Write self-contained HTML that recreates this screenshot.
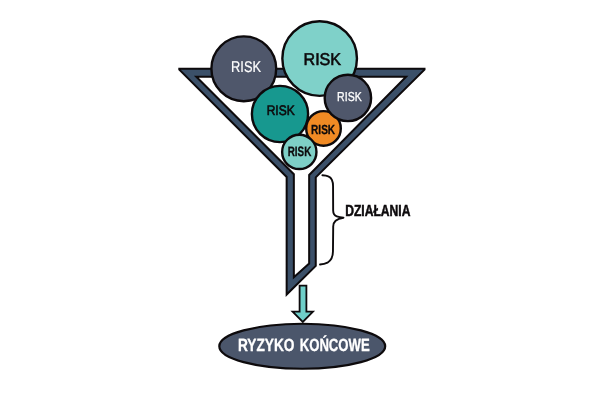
<!DOCTYPE html>
<html><head><meta charset="utf-8">
<style>
html,body{margin:0;padding:0;background:#fff;}
body{width:603px;height:402px;overflow:hidden;font-family:"Liberation Sans",sans-serif;}
svg{display:block;will-change:transform;filter:blur(0.35px);}
text{font-family:"Liberation Sans",sans-serif;}
</style></head><body>
<svg width="603" height="402" viewBox="0 0 603 402">
<!-- funnel -->
<path fill-rule="evenodd" fill="#3b5069" stroke="#0d0a0c" stroke-width="2" stroke-linejoin="miter" stroke-miterlimit="10"
 d="M179.3 68.85 L424.5 68.85 L424.5 69.64 L315.75 177.4 L315.75 265.85 L286.65 294.55 L286.65 177 L179.3 69.66 Z
    M196.3 76.7 L406.1 76.7 L309.15 174.95 L309.15 263.5 L293.85 277.2 L293.85 174.25 Z"/>
<!-- circles -->
<circle cx="243.8" cy="68.8" r="32.4" fill="#4f576b" stroke="#0d0a0c" stroke-width="2.4"/>
<circle cx="319.65" cy="58.55" r="37.3" fill="#7fd1c9" stroke="#0d0a0c" stroke-width="2.4"/>
<circle cx="280" cy="114" r="28.1" fill="#17988f" stroke="#0d0a0c" stroke-width="2.4"/>
<circle cx="323.5" cy="128.4" r="17.3" fill="#f08a24" stroke="#0d0a0c" stroke-width="2.4"/>
<circle cx="347.9" cy="97.9" r="23.2" fill="#4f576b" stroke="#0d0a0c" stroke-width="2.4"/>
<circle cx="299.3" cy="151.9" r="17.15" fill="#7ecfc6" stroke="#0d0a0c" stroke-width="2.4"/>

<!-- brace -->
<path fill="none" stroke="#0d0a0c" stroke-width="1.9" stroke-linecap="round" stroke-linejoin="round"
 d="M322.4 175.3 C325 175.4 327 175.8 328.3 176.4 C330.2 177.2 331.3 178.5 331.9 179.9 C332.7 181.7 333.05 183.5 333.05 186 L333.15 210.5 C333.15 213.8 334.3 215.4 336.8 216.3 C338.8 217 341 217.4 343.5 217.7 C340 218.2 337.3 219.3 335.6 220.8 C334 222.3 333.2 224 333.2 226.5 L332.95 251.5 C332.95 257 331 260.5 327.5 262.7 C325 264 322.5 264.4 320 264.5"/>
<!-- arrow -->
<path fill="#6fcfc9" stroke="#0d0a0c" stroke-width="1.8" stroke-linejoin="miter"
 d="M299.6 285.7 L306.4 285.7 L306.4 311.7 L312.95 311.7 L302.8 322 L292.6 311.7 L299.6 311.7 Z"/>
<!-- ellipse -->
<ellipse cx="302.25" cy="346.25" rx="82.95" ry="22.5" fill="#4b566b" stroke="#0d0a0c" stroke-width="2.2"/>
<g style="text-rendering:geometricPrecision">
<!-- risk labels -->
<text x="246.1" y="71.9" font-size="15.5" fill="#ffffff" stroke="#ffffff" stroke-width="0.2" text-anchor="middle" textLength="30" lengthAdjust="spacingAndGlyphs">RISK</text>
<text x="322.3" y="64.6" font-size="17.1" fill="#0d0a0c" stroke="#0d0a0c" stroke-width="0.6" text-anchor="middle" textLength="37.6" lengthAdjust="spacingAndGlyphs">RISK</text>
<text x="349.4" y="101" font-size="13" fill="#ffffff" stroke="#ffffff" stroke-width="0.3" text-anchor="middle" textLength="24.6" lengthAdjust="spacingAndGlyphs">RISK</text>
<text x="280.7" y="115.0" font-size="13.8" fill="#0d0a0c" stroke="#0d0a0c" stroke-width="0.6" text-anchor="middle" textLength="28" lengthAdjust="spacingAndGlyphs">RISK</text>
<text x="323.1" y="133.6" font-size="13.2" font-weight="bold" fill="#0d0a0c" stroke="#0d0a0c" stroke-width="0.3" text-anchor="middle" textLength="24" lengthAdjust="spacingAndGlyphs">RISK</text>
<text x="299.5" y="155.6" font-size="13.6" font-weight="bold" fill="#0d0a0c" stroke="#0d0a0c" stroke-width="0.3" text-anchor="middle" textLength="23.6" lengthAdjust="spacingAndGlyphs">RISK</text>
<text x="345.2" y="216.4" font-size="16" font-weight="bold" fill="#0d0a0c" stroke="#0d0a0c" stroke-width="0.55" textLength="65.2" lengthAdjust="spacingAndGlyphs">DZIAŁANIA</text>
<text x="237.9" y="351.2" font-size="17.7" font-weight="bold" fill="#ffffff" stroke="#ffffff" stroke-width="0.35" textLength="56.6" lengthAdjust="spacingAndGlyphs">RYZYKO</text>
<text x="299.7" y="351.2" font-size="17.7" font-weight="bold" fill="#ffffff" stroke="#ffffff" stroke-width="0.35" textLength="70" lengthAdjust="spacingAndGlyphs">KOŃCOWE</text>
</g>
</svg>
</body></html>
